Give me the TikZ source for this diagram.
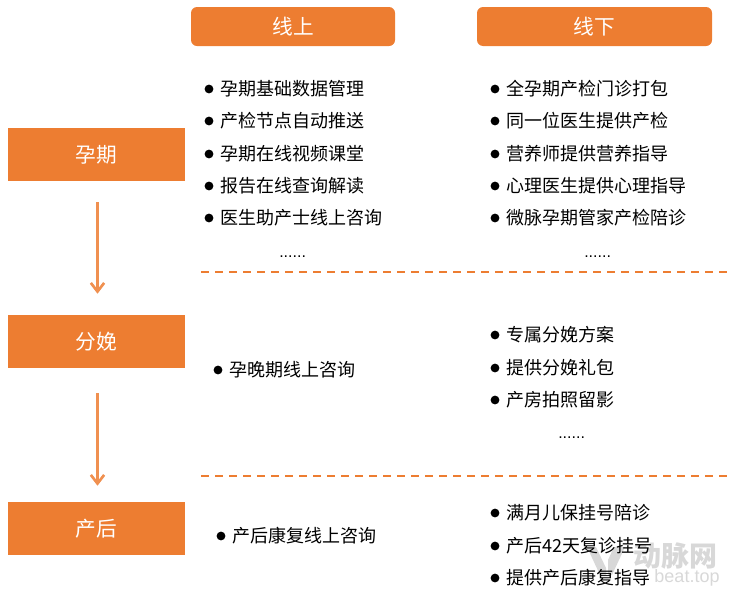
\documentclass[tikz,border=0pt]{standalone}
\usepackage{fontspec}
\setmainfont{Noto Sans CJK SC}
\newfontfamily\latinf{Liberation Sans}
\definecolor{og}{HTML}{ED7D31}
\definecolor{wm}{HTML}{D8D8D8}
\usetikzlibrary{arrows.meta}
\tikzset{
 x=0.75pt,y=-0.75pt,
 phase/.style={fill=og,text=white,minimum width=132.75pt,minimum height=39.75pt,inner sep=0pt,font=\fontsize{15.5pt}{15.5pt}\selectfont},
 head/.style={fill=og,text=white,rounded corners=4.5pt,minimum height=29.25pt,inner sep=0pt,font=\fontsize{15.5pt}{15.5pt}\selectfont},
 item/.style={anchor=west,inner sep=0pt,font=\fontsize{13.5pt}{13.5pt}\selectfont},
 bul/.style={circle,fill=black,minimum size=6.6pt,inner sep=0pt},
 more/.style={anchor=west,inner sep=0pt,font=\latinf\fontsize{12pt}{12pt}\selectfont},
 flow/.style={draw=og!85!white,line width=2pt,-{Straight Barb[length=6.5pt,width=10pt,line width=2pt]}},
 sep/.style={draw=og,line width=1.5pt,dash pattern=on 6pt off 4.5pt},
}
\newcommand{\itm}[4]{\node[bul] (b#4) at (#1,#2) {}; \node[item] (t#4) at (#1+11,#2) {#3};}
\begin{document}
\begin{tikzpicture}
\useasboundingbox (0,0) rectangle (731,593);
% watermark
\fill[wm] (587,547) -- (596,547) -- (606,568) -- (606,575) -- (600,575) -- cycle;
\fill[wm] (608,560) -- (614,547) -- (625,547) -- (612,575) -- (608,575) -- cycle;
\node[anchor=center,inner sep=0pt,text=wm,font=\bfseries\fontsize{21pt}{21pt}\selectfont] (wm1) at (675,556) {动脉网};
\node[anchor=center,inner sep=0pt,text=wm,font=\latinf\fontsize{13.5pt}{13.5pt}\selectfont] (wm2) at (687,578) {beat.top};
\node[head,minimum width=153pt] (on) at (293,26.5) {线上};
\node[head,minimum width=176.25pt] (off) at (594.5,26.5) {线下};
\node[phase] (p1) at (96.5,154.5) {孕期};
\node[phase] (p2) at (96.5,341.5) {分娩};
\node[phase] (p3) at (96.5,528.5) {产后};
\draw[flow] ([xshift=.75pt,yshift=-15.75pt]p1.south) -- ([xshift=.75pt,yshift=15.75pt]p2.north);
\draw[flow] ([xshift=.75pt,yshift=-18.75pt]p2.south) -- ([xshift=.75pt,yshift=12pt]p3.north);
\coordinate (s1a) at (201,272); \coordinate (s1b) at (728,272);
\coordinate (s2a) at (201,476); \coordinate (s2b) at (728,476);
\draw[sep] (s1a) -- (s1b);
\draw[sep] (s2a) -- (s2b);
\itm{209}{89}{孕期基础数据管理}{a1}
\itm{209}{121}{产检节点自动推送}{a2}
\itm{209}{154}{孕期在线视频课堂}{a3}
\itm{209}{186}{报告在线查询解读}{a4}
\itm{209}{218}{医生助产士线上咨询}{a5}
\node[more] (m1) at (279,257) {......};
\itm{495}{89}{全孕期产检门诊打包}{c1}
\itm{495}{121}{同一位医生提供产检}{c2}
\itm{495}{154}{营养师提供营养指导}{c3}
\itm{495}{186}{心理医生提供心理指导}{c4}
\itm{495}{218}{微脉孕期管家产检陪诊}{c5}
\node[more] (m2) at (584,257) {......};
\itm{218}{370}{孕晚期线上咨询}{d1}
\itm{495}{335}{专属分娩方案}{e1}
\itm{495}{368}{提供分娩礼包}{e2}
\itm{495}{400}{产房拍照留影}{e3}
\node[more] (m3) at (558,438) {......};
\itm{221}{536}{产后康复线上咨询}{f1}
\itm{495}{513}{满月儿保挂号陪诊}{g1}
\itm{495}{546}{产后42天复诊挂号}{g2}
\itm{495}{578}{提供产后康复指导}{g3}
\end{tikzpicture}
\end{document}
